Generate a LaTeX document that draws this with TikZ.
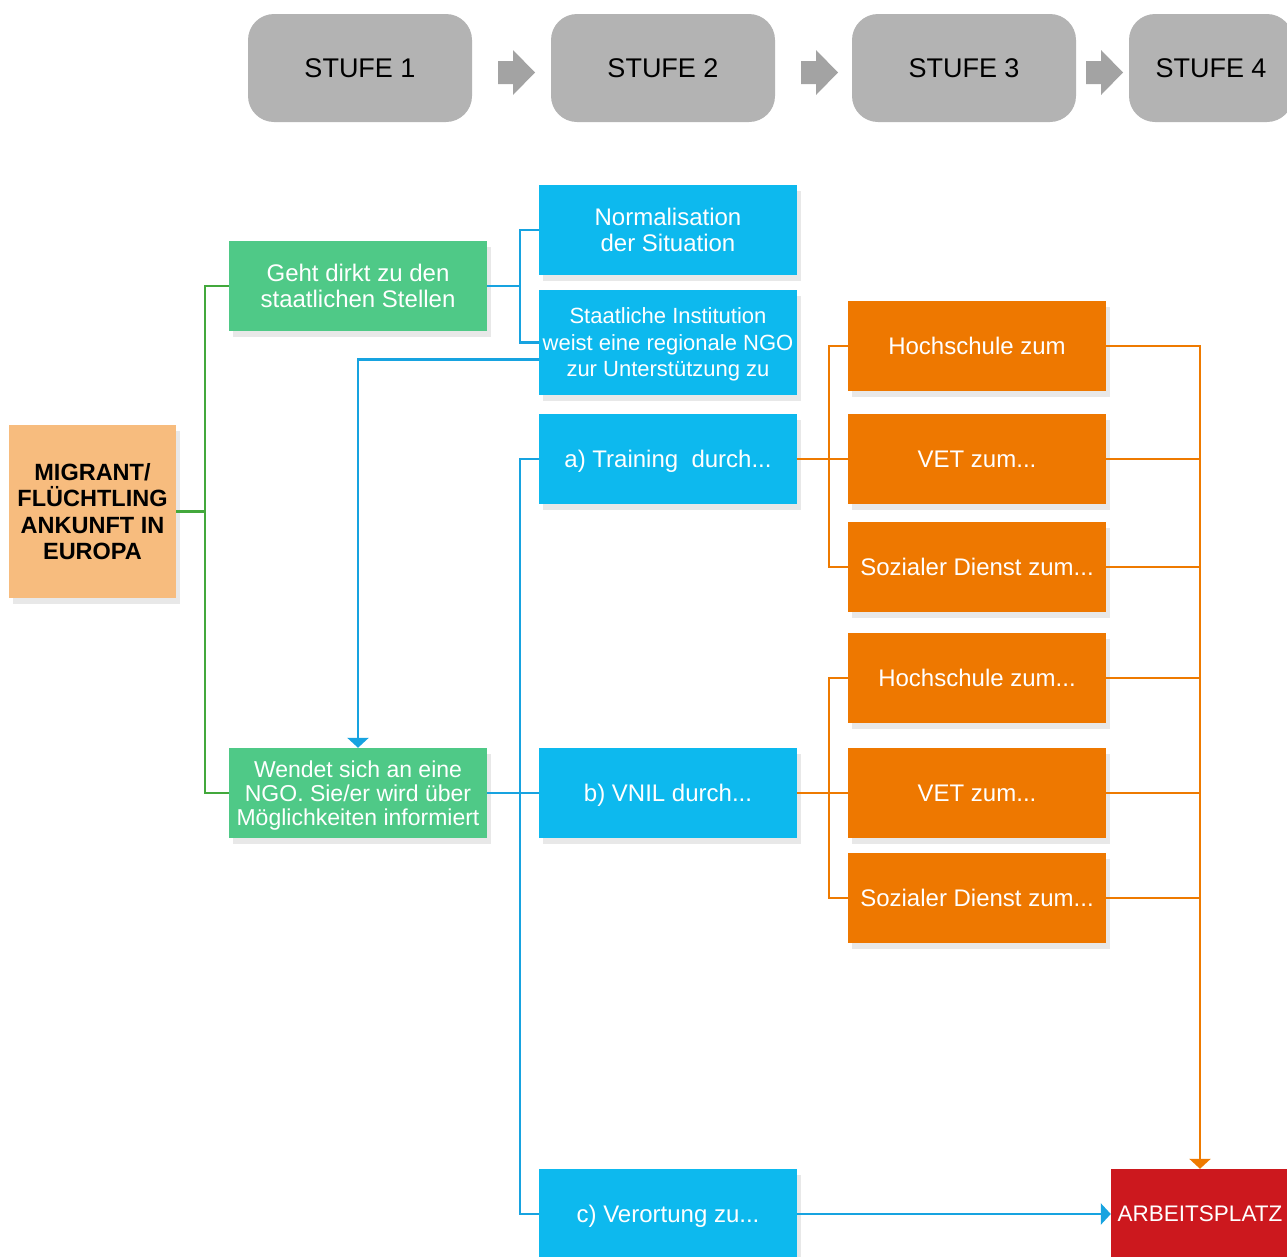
\documentclass[tikz,border=0pt]{standalone}
\usepackage{fontspec}
\setmainfont{Liberation Sans}
\usepackage{xcolor}
\usetikzlibrary{arrows.meta,shadows}
\definecolor{stufegray}{HTML}{B3B3B3}
\definecolor{pfeilgray}{HTML}{A3A3A3}
\definecolor{migorange}{HTML}{F7BC7E}
\definecolor{boxgreen}{HTML}{4FC987}
\definecolor{boxblue}{HTML}{0DB9EE}
\definecolor{boxorange}{HTML}{EE7800}
\definecolor{boxred}{HTML}{CC181E}
\definecolor{linegreen}{HTML}{43A83C}
\definecolor{lineblue}{HTML}{17A3E0}
\definecolor{lineorange}{HTML}{EE7A00}
\tikzset{
  stufe/.style={fill=stufegray,rounded corners=26pt,minimum width=224pt,minimum height=108pt,text depth=-3pt,font=\fontsize{27}{30}\selectfont},
  box/.style={minimum width=258pt,minimum height=90pt,inner sep=1pt,text depth=-3pt,align=center,text=white,font=\fontsize{24}{26}\selectfont,drop shadow={shadow xshift=4pt,shadow yshift=-6pt,opacity=.18}},
  gbox/.style={box,fill=boxgreen},
  bbox/.style={box,fill=boxblue},
  obox/.style={box,fill=boxorange},
  gline/.style={draw=linegreen,line width=2.5pt},
  bline/.style={draw=lineblue,line width=2.5pt},
  oline/.style={draw=lineorange,line width=2.5pt},
  tip/.style={-{Triangle[width=21pt,length=10pt]}}
}
\begin{document}
\begin{tikzpicture}[x=1pt,y=-1pt]
\useasboundingbox (0,0) rectangle (1287,1256);
\foreach \n/\x in {1/360,2/663,3/964}{\node[stufe] (s\n) at (\x,68) {STUFE \n};}
\node[stufe,minimum width=164pt] (s4) at (1211,68) {STUFE 4};
\foreach \x in {498,801,1086}{\fill[pfeilgray] (\x,61) -- (\x+15,61) -- (\x+15,50) -- (\x+37,72.5) -- (\x+15,95) -- (\x+15,84) -- (\x,84) -- cycle;}

\node[box,fill=migorange,text=black,minimum width=167pt,minimum height=173pt,font=\fontsize{23.5}{26.5}\selectfont\bfseries] (migrant) at (92.5,511.5) {MIGRANT/\\FLÜCHTLING\\ANKUNFT IN\\EUROPA};
\node[gbox] (geht) at (358,286) {Geht dirkt zu den\\staatlichen Stellen};
\node[gbox,font=\fontsize{23}{24}\selectfont] (wendet) at (358,793) {Wendet sich an eine\\NGO. Sie/er wird über\\Möglichkeiten informiert};

\node[bbox] (norm) at (668,230) {Normalisation\\der Situation};
\node[bbox,minimum height=105pt,font=\fontsize{22}{26.5}\selectfont] (staat) at (668,342.5) {Staatliche Institution\\weist eine regionale NGO\\zur Unterstützung zu};
\node[bbox] (train) at (668,459) {a) Training\ \ durch...};
\node[bbox] (vnil) at (668,793) {b) VNIL durch...};
\node[bbox] (vort) at (668,1214) {c) Verortung zu...};

\node[obox] (hs1) at (977,346) {Hochschule zum};
\node[obox] (vet1) at (977,459) {VET zum...};
\node[obox] (sd1) at (977,567) {Sozialer Dienst zum...};
\node[obox] (hs2) at (977,678) {Hochschule zum...};
\node[obox] (vet2) at (977,793) {VET zum...};
\node[obox] (sd2) at (977,898) {Sozialer Dienst zum...};

\node[box,fill=boxred,minimum width=178pt,font=\fontsize{22.5}{26}\selectfont] (arbeits) at (1200,1214) {ARBEITSPLATZ};

\coordinate (gbus) at (205,511.5);
\coordinate (b1) at (520,286);
\coordinate (b2) at (520,793);
\coordinate (o1) at (829,459);
\coordinate (o2) at (829,793);

\draw[gline] (migrant.east) -- (gbus);
\draw[gline] (geht.west) -| (gbus) |- (wendet.west);

\draw[bline] (geht.east) -- (b1);
\draw[bline] (norm.west) -| (b1) |- (staat.west);
\draw[bline,tip] ([yshift=-17pt]staat.west) -| (wendet.north);
\draw[bline] (wendet.east) -- (vnil.west);
\draw[bline] (train.west) -| (b2) |- (vort.west);
\draw[bline,tip] (vort.east) -- (arbeits.west);

\draw[oline] (train.east) -- (vet1.west);
\draw[oline] (hs1.west) -| (o1) |- (sd1.west);
\draw[oline] (vnil.east) -- (vet2.west);
\draw[oline] (hs2.west) -| (o2) |- (sd2.west);
\foreach \b in {vet1,sd1,hs2,vet2,sd2}{\draw[oline] (\b.east) -- (\b.east -| arbeits.north);}
\draw[oline,tip] (hs1.east) -| (arbeits.north);
\end{tikzpicture}
\end{document}
